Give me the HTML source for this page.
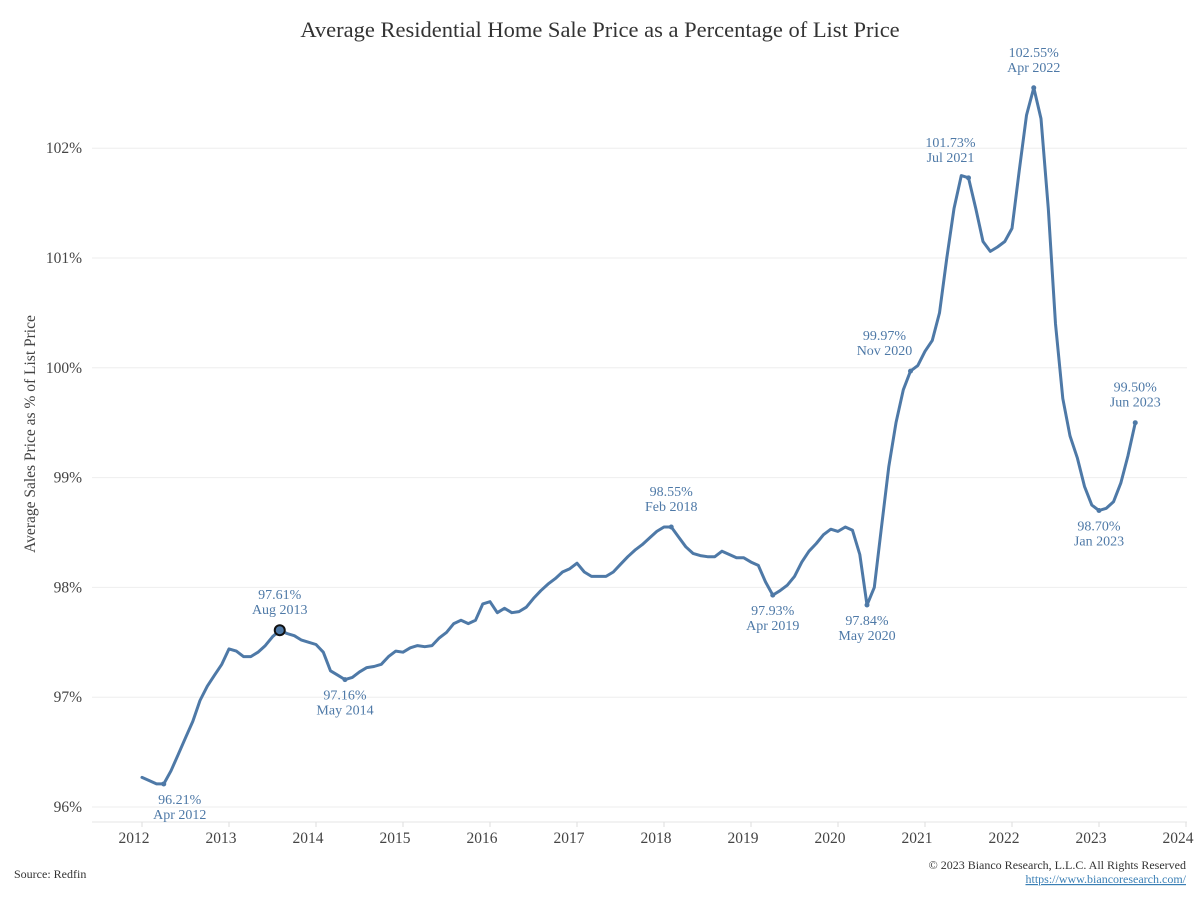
<!DOCTYPE html>
<html><head><meta charset="utf-8"><style>
html,body{margin:0;padding:0;background:#fff;}
svg text{font-family:"Liberation Serif",serif;}
</style></head><body>
<svg id="chart" width="1200" height="900" xmlns="http://www.w3.org/2000/svg">
<text x="600" y="37" text-anchor="middle" font-size="22.5" fill="#333">Average Residential Home Sale Price as a Percentage of List Price</text>
<text transform="translate(35,434) rotate(-90)" text-anchor="middle" font-size="15.5" fill="#444">Average Sales Price as % of List Price</text>
<g id="grid"></g>
<g id="yaxis"></g>
<g id="xaxis"></g>
<g id="series"></g>
<g id="ann"></g>
<text x="14" y="878" font-size="12" fill="#333">Source: Redfin</text>
<text x="1186" y="869" text-anchor="end" font-size="12" fill="#333">© 2023 Bianco Research, L.L.C. All Rights Reserved</text>
<text x="1186" y="883" text-anchor="end" font-size="12" fill="#3a7fb5" text-decoration="underline">https://www.biancoresearch.com/</text>
</svg>
<script>
const startYear = 2012;
const values = [
96.27,96.24,96.21,96.21,96.33,96.48,96.63,96.78,96.97,97.10,97.20,97.30,
97.44,97.42,97.37,97.37,97.41,97.47,97.55,97.61,97.58,97.56,97.52,97.50,
97.48,97.41,97.24,97.20,97.16,97.18,97.23,97.27,97.28,97.30,97.37,97.42,
97.41,97.45,97.47,97.46,97.47,97.54,97.59,97.67,97.70,97.67,97.70,97.85,
97.87,97.77,97.81,97.77,97.78,97.82,97.90,97.97,98.03,98.08,98.14,98.17,
98.22,98.14,98.10,98.10,98.10,98.14,98.21,98.28,98.34,98.39,98.45,98.51,
98.55,98.55,98.46,98.37,98.31,98.29,98.28,98.28,98.33,98.30,98.27,98.27,
98.23,98.20,98.05,97.93,97.97,98.02,98.10,98.23,98.33,98.40,98.48,98.53,
98.51,98.55,98.52,98.30,97.84,98.00,98.55,99.10,99.50,99.80,99.97,100.02,
100.15,100.25,100.50,101.00,101.45,101.75,101.73,101.45,101.15,101.06,101.10,101.15,
101.27,101.80,102.30,102.55,102.27,101.45,100.40,99.72,99.38,99.18,98.92,98.75,
98.70,98.72,98.78,98.95,99.20,99.50];
const yTicks = [96,97,98,99,100,101,102];
const xTickYears = [2012,2013,2014,2015,2016,2017,2018,2019,2020,2021,2022,2023,2024];
const annIndex = [3,19,28,73,87,100,106,114,123,132,137];
const annValue = ["96.21%","97.61%","97.16%","98.55%","97.93%","97.84%","99.97%","101.73%","102.55%","98.70%","99.50%"];
const annDate = ["Apr 2012","Aug 2013","May 2014","Feb 2018","Apr 2019","May 2020","Nov 2020","Jul 2021","Apr 2022","Jan 2023","Jun 2023"];
const annAbove = [false,true,false,true,false,false,true,true,true,false,true];
const annDx = [16,0,0,0,0,0,-26,-18,0,0,0];

const NS="http://www.w3.org/2000/svg";
const x = m => 142 + m*87/12;
const y = v => 807 - (v-96)*109.8;
function mk(tag, attrs, parent, txt){const e=document.createElementNS(NS,tag);for(const k in attrs)e.setAttribute(k,attrs[k]);if(txt!==undefined)e.textContent=txt;parent.appendChild(e);return e;}
const grid=document.getElementById('grid'), ya=document.getElementById('yaxis'), xa=document.getElementById('xaxis'), ser=document.getElementById('series'), ann=document.getElementById('ann');
yTicks.forEach(t=>{
  const l=mk('line',{x1:92,x2:1187,y1:y(t),y2:y(t),stroke:'#eeeeee','stroke-width':1},grid);
  
  
  const tx=mk('text',{x:82,y:y(t)+5,'text-anchor':'end','font-size':15.5,fill:'#444'},ya,t+'%');
  
  
});
mk('line',{x1:92,x2:1187,y1:822,y2:822,stroke:'#e6e6e6','stroke-width':1},xa);
xTickYears.forEach(yr=>{
  const px=x((yr-startYear)*12)-8;
  mk('line',{x1:px+8,x2:px+8,y1:822,y2:827,stroke:'#ddd'},xa);
  const tx=mk('text',{x:px,y:843,'text-anchor':'middle','font-size':15.5,fill:'#444'},xa,String(yr));
  
  
});
const d=values.map((v,i)=>(i?'L':'M')+x(i).toFixed(1)+','+y(v).toFixed(1)).join('');
const p=mk('path',{d:d,fill:'none',stroke:'#4e79a7','stroke-width':3,'stroke-linejoin':'round','stroke-linecap':'round'},ser);


annIndex.forEach((idx,k)=>{
  const px=x(idx), py=y(values[idx]);
  const big = k===1;
  const c=mk('circle',{cx:px,cy:py,r:big?5:2.5,fill:'#4e79a7',stroke:big?'#111':'none','stroke-width':big?2:0},ann);
  
  
  const tx=px+annDx[k];
  const y1 = annAbove[k] ? py-31 : py+20;
  const g=mk('text',{x:tx,y:y1,'text-anchor':'middle','font-size':14,fill:'#4e79a7'},ann);
  
  
  mk('tspan',{x:tx,dy:0},g,annValue[k]);
  mk('tspan',{x:tx,dy:15},g,annDate[k]);
});
</script>
</body></html>
